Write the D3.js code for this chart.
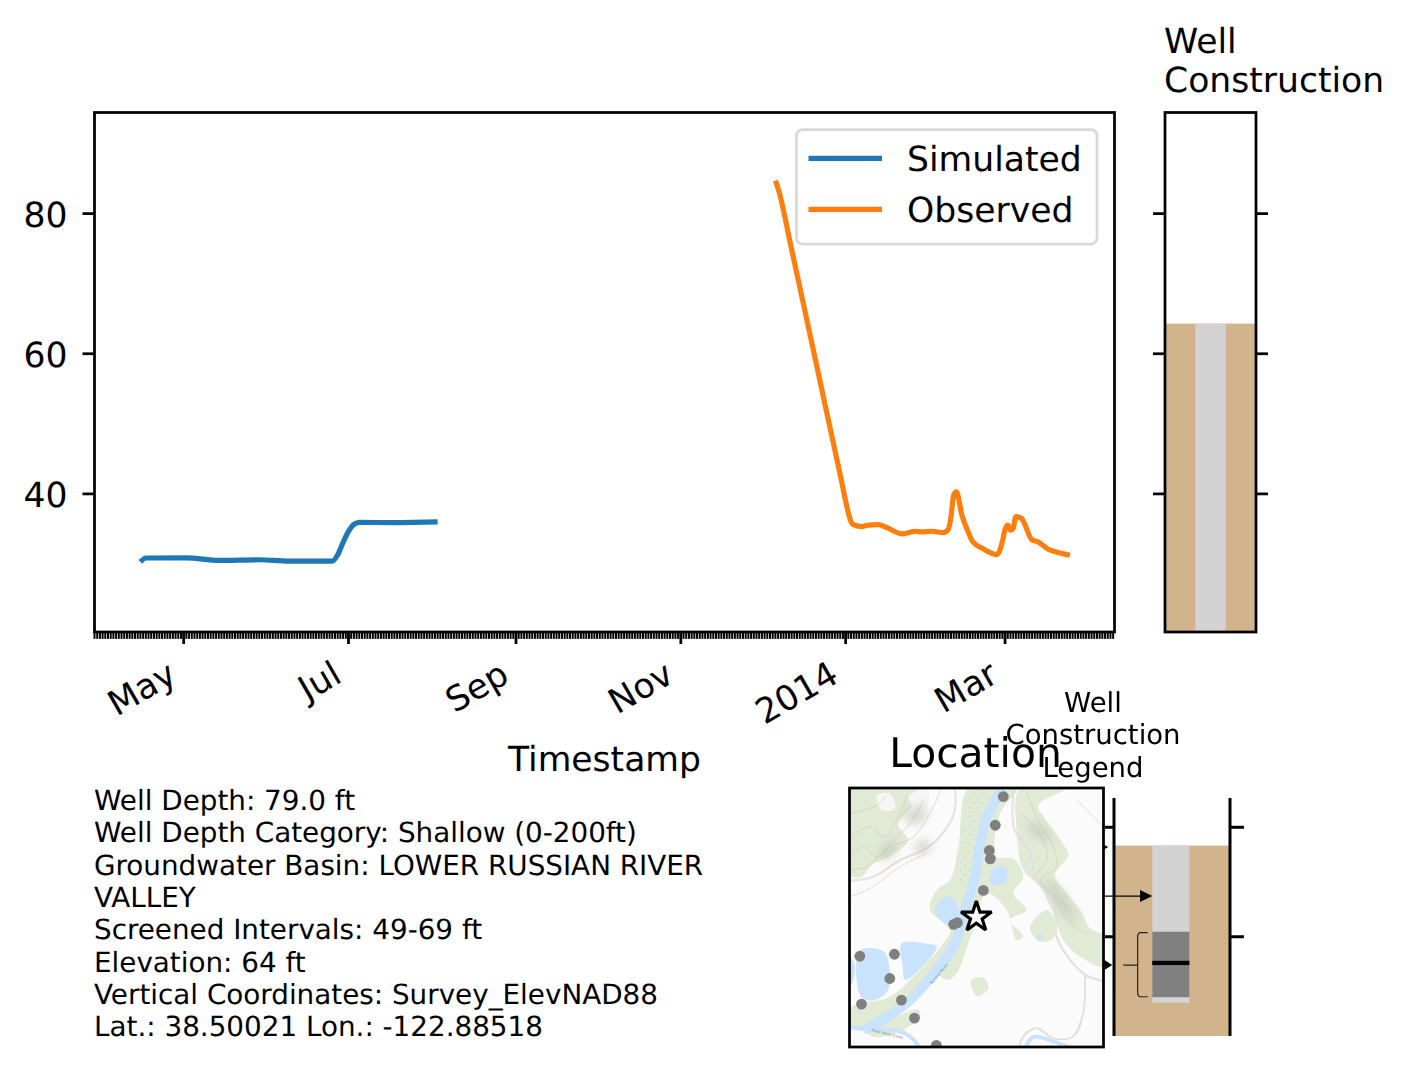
<!DOCTYPE html>
<html lang="en">
<head>
<meta charset="utf-8">
<title>Well hydrograph</title>
<script src="https://d3js.org/d3.v7.min.js"></script>
<style>
  html, body { margin: 0; padding: 0; background: #fff; }
  svg { display: block; }
  text { font-family: "DejaVu Sans", sans-serif; fill: #000; text-rendering: geometricPrecision; }
</style>
</head>
<body>
<script>
// hydrograph values
const simDates = ["2013-04-15","2013-04-17","2013-05-02","2013-05-14","2013-05-29","2013-06-09","2013-06-25","2013-06-27","2013-06-29","2013-07-01","2013-07-03","2013-07-05","2013-07-17","2013-07-25","2013-08-03"];
const simValues = [30.3,30.85,30.86,30.5,30.6,30.4,30.4,31.3,33.07,34.64,35.64,35.93,35.9,35.93,36.0];
const obsDates = ["2013-12-06","2013-12-07","2013-12-12","2013-12-19","2013-12-24","2013-12-30","2014-01-02","2014-01-03","2014-01-04","2014-01-07","2014-01-09","2014-01-13","2014-01-16","2014-01-22","2014-01-27","2014-01-29","2014-02-02","2014-02-06","2014-02-08","2014-02-09","2014-02-10","2014-02-11","2014-02-13","2014-02-15","2014-02-17","2014-02-21","2014-02-23","2014-02-26","2014-02-28","2014-03-01","2014-03-02","2014-03-03","2014-03-04","2014-03-05","2014-03-07","2014-03-11","2014-03-13","2014-03-17","2014-03-20","2014-03-25"];
const obsValues = [84.7,83.57,74.9,62.4,53.4,42.7,37.3,36.0,35.57,35.33,35.53,35.61,35.24,34.29,34.67,34.57,34.67,34.47,34.95,36.76,39.9,40.3,37.0,34.9,33.2,32.14,31.7,31.33,33.2,34.95,35.53,34.81,35.1,36.76,36.53,33.43,33.19,32.1,31.7,31.24];

const yTicks = [40, 60, 80];
const xTickLabels = ["May", "Jul", "Sep", "Nov", "2014", "Mar"];
const seriesNames = ["Simulated", "Observed"];
const seriesColors = ["#1f77b4", "#ff7f0e"];

const infoLines = [
  "Well Depth: 79.0 ft",
  "Well Depth Category: Shallow (0-200ft)",
  "Groundwater Basin: LOWER RUSSIAN RIVER",
  "VALLEY",
  "Screened Intervals: 49-69 ft",
  "Elevation: 64 ft",
  "Vertical Coordinates: Survey_ElevNAD88",
  "Lat.: 38.50021 Lon.: -122.88518"
];
const wellTitle = ["Well", "Construction"];
const legendTitle = ["Well", "Construction", "Legend"];

// well column, top of ground in ft and casing as a share of the column width
const groundTop = 64.3;
const casingSpan = [1 / 3, 2 / 3];

// basemap shapes, in map units
const greenAreas = [
  [[30,320],[262,320],[215,380],[174,435],[204,480],[154,525],[94,555],[64,590],[30,585]],
  [[385,325],[480,325],[430,420],[400,560],[380,660],[345,790],[290,870],[210,960],[120,1025],[30,1045],[30,985],[150,950],[250,860],[310,790],[330,750],[270,690],[290,630],[330,600],[355,500]],
  [[500,330],[530,330],[480,400],[470,530],[520,535],[550,590],[520,640],[560,690],[510,720],[550,770],[530,780],[500,690],[440,640],[395,760],[350,880],[320,900],[290,870],[345,790],[380,660],[400,560],[430,420]],
  [[540,325],[675,325],[595,375],[615,415],[665,485],[685,525],[645,585],[695,655],[725,695],[750,745],[795,770],[795,860],[720,830],[670,780],[640,700],[600,620],[550,570],[530,450]],
  [[85,1060],[150,1020],[235,990],[240,1010],[170,1060],[100,1072]],
  [[394,900],[430,893],[445,925],[412,950],[398,930]],
  [[570,745],[620,690],[650,730],[640,775],[600,785]]
];
const wetland = [[392,335],[445,335],[410,450],[398,600],[355,622],[368,500]];
const ponds = [
  [[283,690],[325,648],[350,670],[355,710],[335,742]],
  [[452,612],[460,565],[490,558],[503,575],[495,610]],
  [[185,790],[250,790],[290,800],[270,835],[195,900],[188,860]],
  [[59,812],[130,815],[146,850],[142,935],[94,962],[62,950]],
  [[26,830],[42,850],[40,900],[26,925]],
  [[590,778],[600,760],[605,775],[595,782]]
];
const riverLine = [[490,325],[450,390],[420,490],[405,590],[375,690],[345,790],[290,870],[210,960],[120,1025],[70,1050]];
const creekLine = [[26,1042],[90,1050],[170,1052],[215,1075],[240,1108]];
const creekLine2 = [[555,1108],[580,1072],[640,1085],[700,1108]];
const roads = [
  [[345,320],[342,400],[290,480],[250,510],[180,540],[100,590],[26,602]],
  [[522,320],[522,445],[570,515],[580,585],[645,665],[650,770],[730,880],[795,905]],
  [[735,880],[730,1000],[700,1070],[640,1075],[590,1045],[550,1070],[538,1108]]
];
const powerLine = [[710,358],[795,444]];
const contours = [
  [[30,400],[100,380],[140,345]],
  [[30,470],[90,440],[130,470],[170,420],[200,345]],
  [[30,530],[70,500],[110,530],[160,480],[210,430],[250,360]],
  [[30,570],[80,560],[150,500],[220,470],[280,380],[300,330]],
  [[560,335],[590,410],[640,500],[650,560],[600,600],[650,650],[690,690]],
  [[545,400],[610,480],[620,540],[580,590]],
  [[640,640],[680,720],[740,760]],
  [[30,650],[90,625],[180,560],[260,520]]
];
const hillShade = [
  [[190,400],[250,375],[255,420],[205,430]],
  [[225,490],[265,480],[270,510],[235,520]],
  [[560,430],[610,440],[640,480],[590,470]],
  [[610,590],[670,640],[710,730],[670,700]],
  [[120,510],[160,480],[170,510],[130,540]]
];
const whitePatches = [
  [[110,345],[150,340],[165,385],[125,390]],
  [[205,350],[260,325],[265,370],[230,385]]
];
const nearbyWells = [[490,349],[466,435],[448,511],[451,536],[430,631],[352,728],[341,733],[59,829],[163,823],[149,896],[64,973],[184,961],[223,1015],[289,1097]];
const thisWell = [409, 708];
const mapLabels = [
  { text: "Russian River", at: [300,884], angle: -50 },
  { text: "Mark West Creek", at: [140,1066], angle: 14 }
];

// legend sketch, in percent of its panel
const legendGround = 20;
const legendCasing = [33, 65];
const legendCasingBottom = 86;
const legendScreen = [56.2, 83.7];
const legendWater = 69.3;
const legendTicks = [12.3, 58.3];
const legendArrows = [
  { y: 41.2, from: -9.5, base: 22.4, tip: 33, half: 2.5 },
  { y: 20.6, from: -9.5, base: -8.6, tip: -5, half: 1 },
  { y: 70.2, from: -9.5, base: -8.6, tip: -1.5, half: 2.2 }
];
const legendBrace = [[29,56.6],[22,56.6],[20.4,57.6],[20.4,70.2],[8,70.2],[20.4,70.2],[20.4,82.6],[22,83.5],[29,83.5]];

const W = 1410, H = 1072;
const fontBig = 34.6, fontSmall = 27.5, fontInfo = 27.8, fontTitle = 40.8;
const spine = 2.75;

const svg = d3.select("body").append("svg").attr("width", W).attr("height", H);
const defs = svg.append("defs");
defs.append("filter").attr("id", "soft").append("feGaussianBlur").attr("stdDeviation", 0.55);
defs.append("filter").attr("id", "softer").attr("x", "-50%").attr("y", "-50%").attr("width", "200%").attr("height", "200%")
  .append("feGaussianBlur").attr("stdDeviation", 5);

const parseDay = d3.timeParse("%Y-%m-%d");
const plot = { left: 94.5, right: 1114.5, top: 112.5, bottom: 632 };

const x = d3.scaleTime()
  .domain([new Date(2013, 2, 29), new Date(2014, 3, 10, 12)])
  .range([plot.left, plot.right]);
const y = d3.scaleLinear()
  .domain([20.29, 94.43])
  .range([plot.bottom, plot.top]);

function styleAxis(g, width) {
  g.selectAll("path.domain").remove();
  g.selectAll(".tick line").attr("stroke", "#000").attr("stroke-width", width);
}

// minor daily ticks first, then the two-monthly ones
const minorAxis = svg.append("g")
  .attr("transform", `translate(-0.5,${plot.bottom})`)
  .call(d3.axisBottom(x).ticks(d3.timeDay.every(1)).tickSize(6.9).tickFormat(""));
styleAxis(minorAxis, 2);

const majorAxis = svg.append("g")
  .attr("transform", `translate(-0.5,${plot.bottom})`)
  .call(d3.axisBottom(x).ticks(d3.timeMonth.every(2)).tickSize(12).tickFormat((d, i) => xTickLabels[i]));
styleAxis(majorAxis, spine);
majorAxis.selectAll(".tick text")
  .attr("font-size", fontBig)
  .attr("text-anchor", "end")
  .attr("y", 0).attr("dy", 0)
  .attr("transform", "translate(-5,49) rotate(-30)");

const yAxis = svg.append("g")
  .attr("transform", `translate(${plot.left},-0.5)`)
  .call(d3.axisLeft(y).tickValues(yTicks).tickSize(12).tickPadding(15));
styleAxis(yAxis, spine);
yAxis.selectAll(".tick text").attr("font-size", fontBig).attr("dy", "0.39em");

const line = d3.line().x(d => x(d.date)).y(d => y(d.value)).curve(d3.curveMonotoneX);
[[simDates, simValues], [obsDates, obsValues]].forEach(([dates, values], i) => {
  const rows = dates.map((d, j) => ({ date: parseDay(d), value: values[j] }));
  svg.append("path").datum(rows)
    .attr("d", line)
    .attr("fill", "none")
    .attr("stroke", seriesColors[i])
    .attr("stroke-width", 5.2)
    .attr("stroke-linejoin", "round")
    .attr("stroke-linecap", "butt");
});

svg.append("rect")
  .attr("x", plot.left).attr("y", plot.top)
  .attr("width", plot.right - plot.left).attr("height", plot.bottom - plot.top)
  .attr("fill", "none").attr("stroke", "#000").attr("stroke-width", spine);

// legend of the hydrograph
const key = svg.append("g");
key.append("rect")
  .attr("x", 796.5).attr("y", 129.5).attr("width", 300.5).attr("height", 114.5).attr("rx", 6)
  .attr("fill", "#fff").attr("fill-opacity", 0.8).attr("stroke", "#d9d9d9").attr("stroke-width", 2.75);
seriesNames.forEach((name, i) => {
  const ky = 158.3 + i * 51;
  key.append("line").attr("x1", 808.5).attr("x2", 882).attr("y1", ky).attr("y2", ky)
    .attr("stroke", seriesColors[i]).attr("stroke-width", 5.2);
  key.append("text").attr("x", 907).attr("y", ky + 13).attr("font-size", fontBig).text(name);
});

svg.append("text")
  .attr("x", (plot.left + plot.right) / 2).attr("y", 771)
  .attr("text-anchor", "middle").attr("font-size", fontBig).text("Timestamp");

// well construction column
const wellPanel = { left: 1165, right: 1256 };
const wx = d3.scaleLinear().domain([0, 1]).range([wellPanel.left, wellPanel.right]);
svg.append("rect")
  .attr("x", wx(0)).attr("y", y(groundTop))
  .attr("width", wx(1) - wx(0)).attr("height", y.range()[0] - y(groundTop))
  .attr("fill", "#d2b48c");
svg.append("rect")
  .attr("x", wx(casingSpan[0])).attr("y", y(groundTop))
  .attr("width", wx(casingSpan[1]) - wx(casingSpan[0])).attr("height", y.range()[0] - y(groundTop))
  .attr("fill", "#d3d3d3");
[[d3.axisLeft, wellPanel.left], [d3.axisRight, wellPanel.right]].forEach(([axis, px]) => {
  const g = svg.append("g").attr("transform", `translate(${px},-0.5)`)
    .call(axis(y).tickValues(yTicks).tickSize(12).tickFormat(""));
  styleAxis(g, spine);
});
svg.append("rect")
  .attr("x", wellPanel.left).attr("y", plot.top)
  .attr("width", wellPanel.right - wellPanel.left).attr("height", plot.bottom - plot.top)
  .attr("fill", "none").attr("stroke", "#000").attr("stroke-width", spine);
wellTitle.forEach((t, i) => {
  svg.append("text").attr("x", wellPanel.left - 1).attr("y", 53 + i * 39)
    .attr("font-size", fontBig).text(t);
});

// info block
infoLines.forEach((t, i) => {
  svg.append("text").attr("x", 94).attr("y", 810 + i * 32.3)
    .attr("font-size", fontInfo).text(t);
});

// location map
const mapBox = { left: 849.5, right: 1103.5, top: 788, bottom: 1047 };
const mx = d3.scaleLinear().domain([28, 791]).range([mapBox.left, mapBox.right]);
const my = d3.scaleLinear().domain([323, 1102]).range([mapBox.top, mapBox.bottom]);
const mapPoly = d3.line().x(d => mx(d[0])).y(d => my(d[1])).curve(d3.curveCatmullRomClosed.alpha(0.5));
const mapLine = d3.line().x(d => mx(d[0])).y(d => my(d[1])).curve(d3.curveCatmullRom.alpha(0.5));

defs.append("clipPath").attr("id", "mapClip").append("rect")
  .attr("x", mapBox.left).attr("y", mapBox.top)
  .attr("width", mapBox.right - mapBox.left).attr("height", mapBox.bottom - mapBox.top);
const dots = defs.append("pattern").attr("id", "marsh")
  .attr("width", 9).attr("height", 9).attr("patternUnits", "userSpaceOnUse");
dots.append("circle").attr("cx", 2).attr("cy", 2).attr("r", 0.8).attr("fill", "#b4d5e4");
dots.append("circle").attr("cx", 6.5).attr("cy", 6.5).attr("r", 0.8).attr("fill", "#b4d5e4");

const map = svg.append("g").attr("clip-path", "url(#mapClip)");
map.append("rect")
  .attr("x", mapBox.left).attr("y", mapBox.top)
  .attr("width", mapBox.right - mapBox.left).attr("height", mapBox.bottom - mapBox.top)
  .attr("fill", "#fbfbfb");
const base = map.append("g").attr("filter", "url(#soft)");
base.selectAll(".green").data(greenAreas).enter().append("path").attr("class", "green")
  .attr("d", mapPoly).attr("fill", "#e0ead4");
base.selectAll(".white").data(whitePatches).enter().append("path").attr("class", "white")
  .attr("d", mapPoly).attr("fill", "#f6f6f4");
map.append("g").attr("filter", "url(#softer)")
  .selectAll("path").data(hillShade).enter().append("path")
  .attr("d", mapPoly).attr("fill", "#b9bdb2").attr("opacity", 0.55);
base.append("path").datum(wetland).attr("d", mapPoly).attr("fill", "url(#marsh)");
base.selectAll(".contour").data(contours).enter().append("path").attr("class", "contour")
  .attr("d", mapLine).attr("fill", "none").attr("stroke", "#dcc8b4").attr("stroke-width", 0.7);
base.selectAll(".road").data(roads).enter().append("path").attr("class", "road")
  .attr("d", mapLine).attr("fill", "none").attr("stroke", "#d6d0ca").attr("stroke-width", 1.8);
base.selectAll(".roadIn").data(roads).enter().append("path").attr("class", "roadIn")
  .attr("d", mapLine).attr("fill", "none").attr("stroke", "#f7f7f7").attr("stroke-width", 0.7);
base.append("path").datum(powerLine).attr("d", mapLine)
  .attr("fill", "none").attr("stroke", "#d6d0ca").attr("stroke-width", 0.8);
base.selectAll(".pond").data(ponds).enter().append("path").attr("class", "pond")
  .attr("d", mapPoly).attr("fill", "#c8e3fb");
base.append("path").datum(riverLine).attr("d", mapLine)
  .attr("fill", "none").attr("stroke", "#c8e3fb").attr("stroke-width", 10);
[creekLine, creekLine2].forEach(c => {
  base.append("path").datum(c).attr("d", mapLine)
    .attr("fill", "none").attr("stroke", "#c8e3fb").attr("stroke-width", 4);
});
mapLabels.forEach(l => {
  map.append("text")
    .attr("transform", `translate(${mx(l.at[0])},${my(l.at[1])}) rotate(${l.angle})`)
    .attr("text-anchor", "middle").attr("font-size", 3.8)
    .style("fill", "#6f93b5").text(l.text);
});
map.selectAll(".well").data(nearbyWells).enter().append("circle").attr("class", "well")
  .attr("cx", d => mx(d[0])).attr("cy", d => my(d[1])).attr("r", 5.4).attr("fill", "#808080");
map.append("path")
  .attr("transform", `translate(${mx(thisWell[0])},${my(thisWell[1]) + 1})`)
  .attr("d", d3.symbol(d3.symbolStar, 290))
  .attr("fill", "#fff").attr("stroke", "#000").attr("stroke-width", 3.2)
  .attr("stroke-linejoin", "miter").attr("stroke-miterlimit", 1.5);
svg.append("rect")
  .attr("x", mapBox.left).attr("y", mapBox.top)
  .attr("width", mapBox.right - mapBox.left).attr("height", mapBox.bottom - mapBox.top)
  .attr("fill", "none").attr("stroke", "#000").attr("stroke-width", spine);
svg.append("text").attr("x", 975.5).attr("y", 767)
  .attr("text-anchor", "middle").attr("font-size", fontTitle).text("Location");

// legend sketch next to the map
const lx = d3.scaleLinear().domain([0, 100]).range([1114, 1230]);
const ly = d3.scaleLinear().domain([0, 100]).range([798, 1036]);
const sketch = svg.append("g").attr("filter", "url(#soft)");
function band(x0, x1, y0, y1, color) {
  sketch.append("rect")
    .attr("x", lx(x0)).attr("y", ly(y0))
    .attr("width", lx(x1) - lx(x0)).attr("height", ly(y1) - ly(y0))
    .attr("fill", color);
}
band(0, 100, legendGround, 100, "#d2b48c");
band(legendCasing[0], legendCasing[1], legendGround, legendCasingBottom, "#d3d3d3");
band(legendCasing[0], legendCasing[1], legendScreen[0], legendScreen[1], "#808080");
band(legendCasing[0], legendCasing[1], legendWater - 0.9, legendWater + 0.9, "#000");
[0, 100].forEach(v => {
  sketch.append("line").attr("x1", lx(v)).attr("x2", lx(v)).attr("y1", ly(0)).attr("y2", ly(100))
    .attr("stroke", "#000").attr("stroke-width", 3);
});
legendTicks.forEach(t => {
  sketch.append("line").attr("x1", lx(-7.8)).attr("x2", lx(0)).attr("y1", ly(t)).attr("y2", ly(t))
    .attr("stroke", "#000").attr("stroke-width", 3);
  sketch.append("line").attr("x1", lx(100)).attr("x2", lx(112)).attr("y1", ly(t)).attr("y2", ly(t))
    .attr("stroke", "#000").attr("stroke-width", 3);
});
legendArrows.forEach(a => {
  sketch.append("line").attr("x1", lx(a.from)).attr("x2", lx(a.base)).attr("y1", ly(a.y)).attr("y2", ly(a.y))
    .attr("stroke", "#000").attr("stroke-width", 1.2);
  sketch.append("path")
    .attr("d", d3.line()([[lx(a.base), ly(a.y - a.half)], [lx(a.tip), ly(a.y)], [lx(a.base), ly(a.y + a.half)]]) + "Z")
    .attr("fill", "#000");
});
sketch.append("path").datum(legendBrace)
  .attr("d", d3.line().x(d => lx(d[0])).y(d => ly(d[1])))
  .attr("fill", "none").attr("stroke", "#222").attr("stroke-width", 1.2);
legendTitle.forEach((t, i) => {
  svg.append("text").attr("x", 1093).attr("y", 712 + i * 32.4)
    .attr("text-anchor", "middle").attr("font-size", fontSmall).text(t);
});
</script>
</body>
</html>
